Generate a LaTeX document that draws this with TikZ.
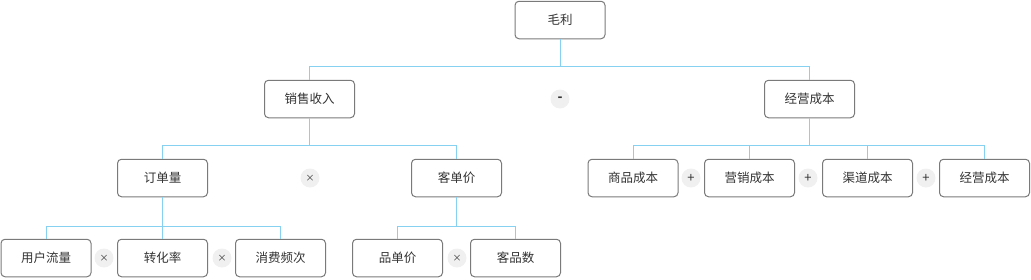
\documentclass[tikz,border=0pt]{standalone}
\usepackage{fontspec}
\setmainfont{Noto Sans CJK SC}
\begin{document}
\begin{tikzpicture}[x=1pt,y=-1pt,
  box/.style={draw=boxgray,line width=1pt,rounded corners=4pt,fill=white,minimum width=90pt,minimum height=37.5pt,inner sep=0pt,font=\fontsize{12.5}{14}\selectfont,text=textgray},
  op/.style={circle,fill=opgray,minimum size=19pt,inner sep=0pt,font=\fontsize{9}{10}\selectfont,text=textgray},
  bigop/.style={op,font=\fontsize{13}{14}\selectfont},
  conn/.style={draw=linkblue,line width=0.9pt}]
\definecolor{boxgray}{HTML}{7A7A7A}
\definecolor{textgray}{HTML}{333333}
\definecolor{opgray}{HTML}{F0F0F0}
\definecolor{linkblue}{HTML}{86D0F2}
\useasboundingbox (0,0) rectangle (1031,279);
% nodes
\node[box] (ml) at (560,20) {毛利};
\node[box] (xs) at (309.5,99) {销售收入};
\node[box] (jy) at (809.5,99) {经营成本};
\node[box] (dd) at (162.5,178) {订单量};
\node[box] (kd) at (456.5,178) {客单价};
\node[box] (sp) at (633,178) {商品成本};
\node[box] (yx) at (749.5,178) {营销成本};
\node[box] (qd) at (867.5,178) {渠道成本};
\node[box] (jy2) at (984.5,178) {经营成本};
\node[box] (yh) at (46,258) {用户流量};
\node[box] (zh) at (162.5,258) {转化率};
\node[box] (xf) at (280.5,258) {消费频次};
\node[box] (pd) at (397.5,258) {品单价};
\node[box] (kp) at (515.5,258) {客品数};
% operators
\node[bigop] (o1) at (560,99) {\textbf{-}};
\node[op] (o2) at (310,178) {×};
\node[op] (o3) at (104,258) {×};
\node[op] (o4) at (222,258) {×};
\node[op] (o5) at (457,258) {×};
\node[bigop] (o6) at (691,178) {+};
\node[bigop] (o7) at (808,178) {+};
\node[bigop] (o8) at (926,178) {+};
% connectors
\draw[conn] (ml.south) -- ++(0,27) -| (xs.north);
\draw[conn] (ml.south) -- ++(0,27) -| (jy.north);
\draw[conn] (xs.south) -- ++(0,27.5) -| (dd.north);
\draw[conn] (xs.south) -- ++(0,27.5) -| (kd.north);
\draw[conn] (jy.south) -- ++(0,27.5) -| (sp.north);
\draw[conn] (jy.south) -- ++(0,27.5) -| (yx.north);
\draw[conn] (jy.south) -- ++(0,27.5) -| (qd.north);
\draw[conn] (jy.south) -- ++(0,27.5) -| (jy2.north);
\draw[conn] (dd.south) -- ++(0,29.5) -| (yh.north);
\draw[conn] (dd.south) -- (zh.north);
\draw[conn] (dd.south) -- ++(0,29.5) -| (xf.north);
\draw[conn] (kd.south) -- ++(0,29.5) -| (pd.north);
\draw[conn] (kd.south) -- ++(0,29.5) -| (kp.north);
\end{tikzpicture}
\end{document}
